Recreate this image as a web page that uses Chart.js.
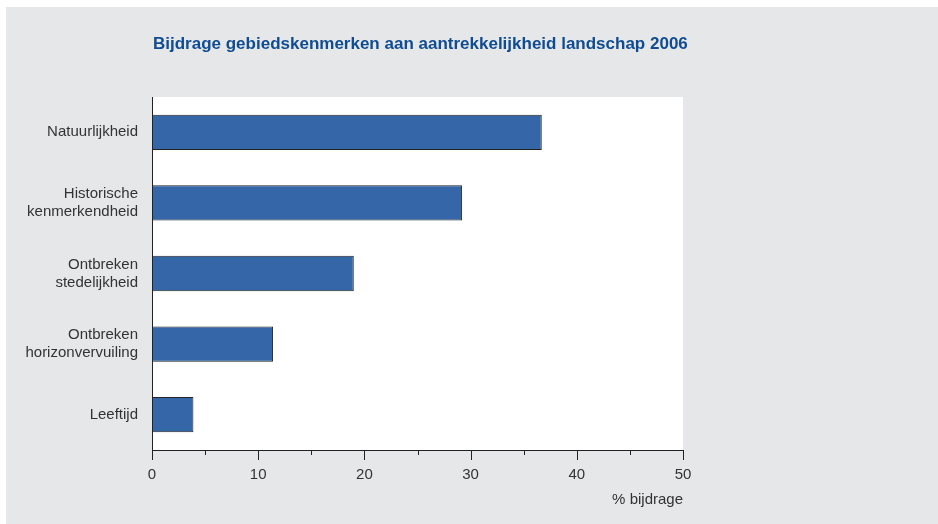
<!DOCTYPE html>
<html>
<head>
<meta charset="utf-8">
<script src="https://cdn.jsdelivr.net/npm/chart.js@4.4.0/dist/chart.umd.min.js"></script>
<style>
  body { margin: 0; background: #fff; }
  #wrap { position: absolute; left: 6px; top: 7px; width: 932px; height: 517px; background: #e6e7e9; }
</style>
</head>
<body>
<div id="wrap"><canvas id="myChart" width="932" height="517"></canvas></div>
<script>
// gegevens
var kenmerken = ['Natuurlijkheid', ['Historische', 'kenmerkendheid'], ['Ontbreken', 'stedelijkheid'], ['Ontbreken', 'horizonvervuiling'], 'Leeftijd'];
var bijdrage = [36.7, 29.2, 19.0, 11.4, 3.9];
var xTicks = [0, 10, 20, 30, 40, 50];
var titel = 'Bijdrage gebiedskenmerken aan aantrekkelijkheid landschap 2006';
var asTitel = '% bijdrage';

// witte plotvlak + titel
var achtergrond = {
    id: 'achtergrond',
    beforeDraw: function (chart) {
        var a = chart.chartArea, ctx = chart.ctx;
        ctx.save();
        ctx.fillStyle = '#ffffff';
        ctx.fillRect(a.left, a.top, a.right - a.left, a.bottom - a.top);
        ctx.fillStyle = '#0f4c92';
        ctx.font = 'bold 17px "Liberation Sans", Arial, sans-serif';
        ctx.textBaseline = 'middle';
        ctx.textAlign = 'left';
        ctx.fillText(titel, a.left + 1, 37);
        ctx.restore();
    }
};

// streepjes op de x-as (lang bij 10-tallen, kort bij 5)
var streepjes = {
    id: 'streepjes',
    afterDraw: function (chart) {
        var x = chart.scales.x, ctx = chart.ctx;
        ctx.save();
        ctx.strokeStyle = '#222';
        ctx.lineWidth = 1;
        x.ticks.forEach(function (t) {
            var px = Math.round(x.getPixelForValue(t.value)) + 0.5;
            var len = xTicks.indexOf(t.value) >= 0 ? 10 : 5;
            ctx.beginPath();
            ctx.moveTo(px, x.top);
            ctx.lineTo(px, x.top + len);
            ctx.stroke();
        });
        ctx.restore();
    }
};

var lettertype = '"Liberation Sans", Arial, sans-serif';

var ctx = document.getElementById('myChart').getContext('2d');
var myChart = new Chart(ctx, {
    type: 'bar',
    data: {
        labels: kenmerken,
        datasets: [{
            data: bijdrage,
            backgroundColor: '#3567a8',
            borderColor: '#222',
            borderWidth: 1,
            borderSkipped: false,
            barPercentage: 0.5,
            categoryPercentage: 1
        }]
    },
    options: {
        indexAxis: 'y',
        responsive: false,
        animation: false,
        devicePixelRatio: 1,
        layout: { padding: { top: 90, right: 255, left: 0, bottom: 0 } },
        plugins: { legend: { display: false }, tooltip: { enabled: false } },
        scales: {
            x: {
                min: 0,
                max: 50,
                grid: { display: false, drawTicks: false },
                border: { display: true, color: '#222', width: 1 },
                ticks: {
                    stepSize: 5,
                    padding: 16,
                    color: '#333',
                    maxRotation: 0,
                    autoSkip: false,
                    font: { family: lettertype, size: 15 },
                    callback: function (v) { return xTicks.indexOf(v) >= 0 ? v : ''; }
                },
                title: {
                    display: true,
                    text: asTitel,
                    align: 'end',
                    color: '#333',
                    padding: { top: 0, bottom: 15 },
                    font: { family: lettertype, size: 15 }
                },
                afterFit: function (s) { s.height = 74; }
            },
            y: {
                grid: { display: false, drawTicks: false },
                border: { display: true, color: '#222', width: 1 },
                ticks: {
                    padding: 14,
                    color: '#333',
                    font: { family: lettertype, size: 15, lineHeight: 1.2 }
                },
                afterFit: function (s) { s.width = 146; }
            }
        }
    },
    plugins: [achtergrond, streepjes]
});
</script>
</body>
</html>
